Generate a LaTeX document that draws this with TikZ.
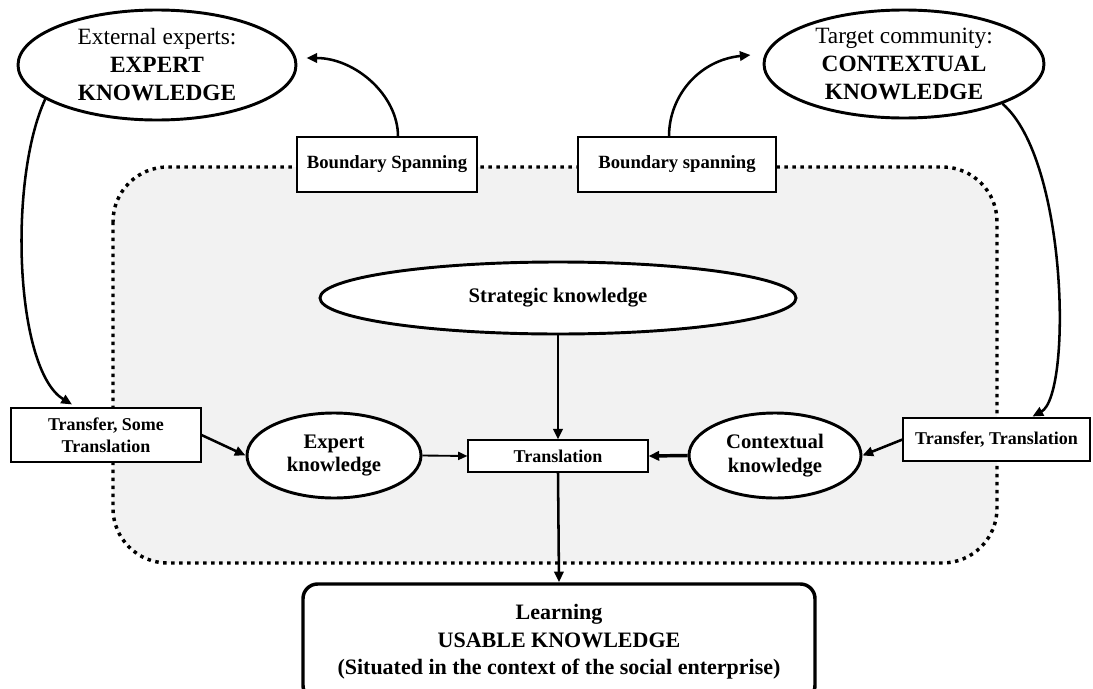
\documentclass[tikz,border=0pt]{standalone}
\usepackage{fontspec}
\setmainfont{Liberation Serif}
\usetikzlibrary{arrows.meta,shapes.geometric}
\definecolor{bgfill}{RGB}{242,242,242}
\begin{document}
\begin{tikzpicture}[x=0.75pt,y=-0.75pt,
  ell/.style={ellipse, draw, line width=2.2pt, fill=white, inner sep=0pt, align=center},
  bx/.style={rectangle, draw, line width=0.8pt, fill=white, inner sep=0pt, align=center,
    font=\bfseries\fontsize{13.5}{16.5}\selectfont},
  bigtxt/.style={font=\fontsize{17.5}{21}\selectfont},
  midtxt/.style={font=\bfseries\fontsize{15.5}{17.5}\selectfont},
  conn/.style={line width=1.9pt, -{Triangle[length=8pt,width=7pt]}},
]
\useasboundingbox (0,0) rectangle (1093,689);
\path[fill=bgfill, draw, line width=2.6pt, dash pattern=on 2.6pt off 3.4pt, rounded corners=41pt]
  (113,167) rectangle (997,563);

\node[ell, bigtxt, minimum width=208.5pt, minimum height=82.5pt] (tl) at (157,65)
  {External experts:\\\textbf{EXPERT}\\\textbf{KNOWLEDGE}};
\node[ell, bigtxt, minimum width=210pt, minimum height=81pt] (tr) at (904,64)
  {Target community:\\\textbf{CONTEXTUAL}\\\textbf{KNOWLEDGE}};

\node[bx, font=\bfseries\fontsize{14}{16}\selectfont, minimum width=135pt, minimum height=41.25pt] (bs1) at (387,164.5) {Boundary Spanning};
\node[bx, font=\bfseries\fontsize{14}{16}\selectfont, minimum width=148.5pt, minimum height=41.25pt] (bs2) at (677,164.5) {Boundary spanning};

\node[ell, midtxt, minimum width=357pt, minimum height=54pt] (strat) at (558,298) {Strategic knowledge};
\node[bx, minimum width=135pt, minimum height=24pt] (trans) at (558,456) {Translation};
\node[ell, midtxt, minimum width=130.5pt, minimum height=63.75pt] (expert) at (334,455.5) {Expert\\knowledge};
\node[ell, midtxt, minimum width=129pt, minimum height=63.75pt] (ctx) at (775,455.5) {Contextual\\knowledge};
\node[bx, minimum width=142.5pt, minimum height=40.5pt] (tst) at (106,435) {Transfer, Some\\Translation};
\node[bx, minimum width=140.25pt, minimum height=32.25pt] (tt) at (996.5,439.5) {Transfer, Translation};

\node[draw, line width=2.6pt, rounded corners=11pt, fill=white, minimum width=384pt, minimum height=87pt,
  align=center, font=\bfseries\fontsize{16.5}{20.6}\selectfont] (learn) at (559,642)
  {Learning\\USABLE KNOWLEDGE\\(Situated in the context of the social enterprise)};

\draw[conn] ([shift={(11,0)}]bs1.north) .. controls (398,95) and (355,58) .. ([shift={(9,-7)}]tl.east);
\draw[conn] ([shift={(-8,0)}]bs2.north) .. controls (669,95) and (700,60) .. ([shift={(-12,-9)}]tr.west);
\draw[conn] (tl.197) .. controls (8,180) and (15,370) .. ([shift={(-34,-3)}]tst.north);
\draw[conn] (tr.-22) .. controls (1068,160) and (1072,395) .. ([shift={(36,-1)}]tt.north);

\draw[conn] (tst.east) -- (expert.west);
\draw[line width=1.4pt, -{Triangle[length=7pt,width=6pt]}] (expert.east) -- (trans.west);
\draw[line width=2.6pt, -{Triangle[length=8pt,width=7pt]}] (ctx.west) -- (trans.east);
\draw[conn] (tt.west) -- (ctx.east);
\draw[line width=2.2pt, -{Triangle[length=8pt,width=7pt]}] (strat.south) -- (trans.north);
\draw[conn] (trans.south) -- (learn.north);
\end{tikzpicture}
\end{document}
